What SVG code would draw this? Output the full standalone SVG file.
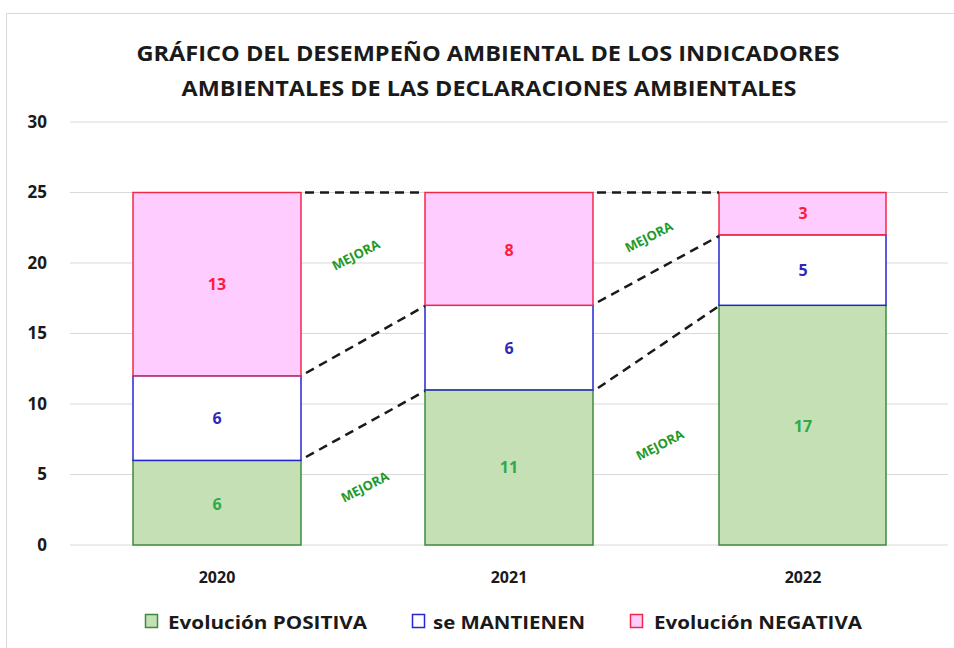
<svg xmlns="http://www.w3.org/2000/svg" width="954" height="648" viewBox="0 0 954 648">
<style>
.t{font-family:"Open Sans","Liberation Sans",sans-serif;font-weight:bold;fill:#1a1a1a}
.title{font-size:22px}
.ax{font-size:17px;text-anchor:end}
.xl{font-size:16px;text-anchor:middle}
.lg{font-size:18px}
.v{font-family:"Open Sans","Liberation Sans",sans-serif;font-weight:bold;font-size:16px;text-anchor:middle}
.grid{stroke:#d9d9d9;stroke-width:1}
.pos{fill:#c5e0b4;stroke:#3c8c3c;stroke-width:1.5}
.man{fill:#ffffff;stroke:#2626d0;stroke-width:1.5}
.neg{fill:#ffccff;stroke:#f02848;stroke-width:1.5}
.dash{stroke:#1a1a1a;stroke-width:2.5;stroke-dasharray:9,6;fill:none}
.mej{font-family:"Open Sans","Liberation Sans",sans-serif;font-weight:bold;font-size:13px;fill:#1f9a2a;text-anchor:middle}
</style>
<rect x="0" y="0" width="954" height="648" fill="#ffffff"/>
<rect x="6.5" y="13.5" width="960" height="650" fill="none" stroke="#d9d9d9"/>
<g id="title">
<text class="t title" x="488" y="61" text-anchor="middle" textLength="703" lengthAdjust="spacingAndGlyphs">GRÁFICO DEL DESEMPEÑO AMBIENTAL DE LOS INDICADORES</text>
<text class="t title" x="489" y="96" text-anchor="middle" textLength="615" lengthAdjust="spacingAndGlyphs">AMBIENTALES DE LAS DECLARACIONES AMBIENTALES</text>
</g>
<g id="grid">
<line class="grid" x1="70" y1="122" x2="948" y2="122"/>
<line class="grid" x1="70" y1="192.5" x2="948" y2="192.5"/>
<line class="grid" x1="70" y1="263" x2="948" y2="263"/>
<line class="grid" x1="70" y1="333.5" x2="948" y2="333.5"/>
<line class="grid" x1="70" y1="404" x2="948" y2="404"/>
<line class="grid" x1="70" y1="474.5" x2="948" y2="474.5"/>
<line class="grid" x1="70" y1="545" x2="948" y2="545"/>
</g>
<g id="y-axis">
<text class="t ax" x="47" y="128">30</text>
<text class="t ax" x="47" y="198">25</text>
<text class="t ax" x="47" y="269">20</text>
<text class="t ax" x="47" y="339">15</text>
<text class="t ax" x="47" y="410">10</text>
<text class="t ax" x="47" y="480">5</text>
<text class="t ax" x="47" y="551">0</text>
</g>
<g id="x-axis">
<text class="t xl" x="217" y="583">2020</text>
<text class="t xl" x="509" y="583">2021</text>
<text class="t xl" x="803" y="583">2022</text>
</g>
<g id="bar-2020">
<rect class="pos" x="133" y="460.4" width="168" height="84.6"/>
<rect class="man" x="133" y="375.8" width="168" height="84.6"/>
<rect class="neg" x="133" y="192.5" width="168" height="183.3"/>
<text class="v" x="217" y="510" fill="#2eaa4a">6</text>
<text class="v" x="217" y="424" fill="#2a2ab8">6</text>
<text class="v" x="217" y="290" fill="#ff1a3a">13</text>
</g>
<g id="bar-2021">
<rect class="pos" x="425" y="389.9" width="168" height="155.1"/>
<rect class="man" x="425" y="305.3" width="168" height="84.6"/>
<rect class="neg" x="425" y="192.5" width="168" height="112.8"/>
<text class="v" x="509" y="473" fill="#2eaa4a">11</text>
<text class="v" x="509" y="354" fill="#2a2ab8">6</text>
<text class="v" x="509" y="256" fill="#ff1a3a">8</text>
</g>
<g id="bar-2022">
<rect class="pos" x="719" y="305.3" width="167" height="239.7"/>
<rect class="man" x="719" y="234.8" width="167" height="70.5"/>
<rect class="neg" x="719" y="192.5" width="167" height="42.3"/>
<text class="v" x="803" y="432" fill="#2eaa4a">17</text>
<text class="v" x="803" y="276" fill="#2a2ab8">5</text>
<text class="v" x="803" y="219" fill="#ff1a3a">3</text>
</g>
<g id="connectors">
<line class="dash" x1="305" y1="192.5" x2="425" y2="192.5"/>
<line class="dash" x1="597" y1="192.5" x2="719" y2="192.5"/>
<line class="dash" x1="306" y1="373" x2="425" y2="306"/>
<line class="dash" x1="306" y1="457" x2="425" y2="391"/>
<line class="dash" x1="598" y1="302" x2="719" y2="236"/>
<line class="dash" x1="598" y1="388" x2="719" y2="306"/>
</g>
<g id="labels-mejora">
<text class="mej" transform="translate(358,259) rotate(-27)">MEJORA</text>
<text class="mej" transform="translate(367,491) rotate(-27)">MEJORA</text>
<text class="mej" transform="translate(651,241) rotate(-27)">MEJORA</text>
<text class="mej" transform="translate(662,449) rotate(-27)">MEJORA</text>
</g>
<g id="legend">
<rect x="145.5" y="614.5" width="12" height="13" fill="#c5e0b4" stroke="#3c8c3c" stroke-width="1.5"/>
<text class="t lg" x="168" y="629" textLength="199" lengthAdjust="spacingAndGlyphs">Evolución POSITIVA</text>
<rect x="412.5" y="614.5" width="12" height="13" fill="#ffffff" stroke="#2626d0" stroke-width="1.5"/>
<text class="t lg" x="433" y="629" textLength="152" lengthAdjust="spacingAndGlyphs">se MANTIENEN</text>
<rect x="630.5" y="614.5" width="12" height="13" fill="#ffccff" stroke="#f02848" stroke-width="1.5"/>
<text class="t lg" x="654" y="629" textLength="208" lengthAdjust="spacingAndGlyphs">Evolución NEGATIVA</text>
</g>
</svg>
